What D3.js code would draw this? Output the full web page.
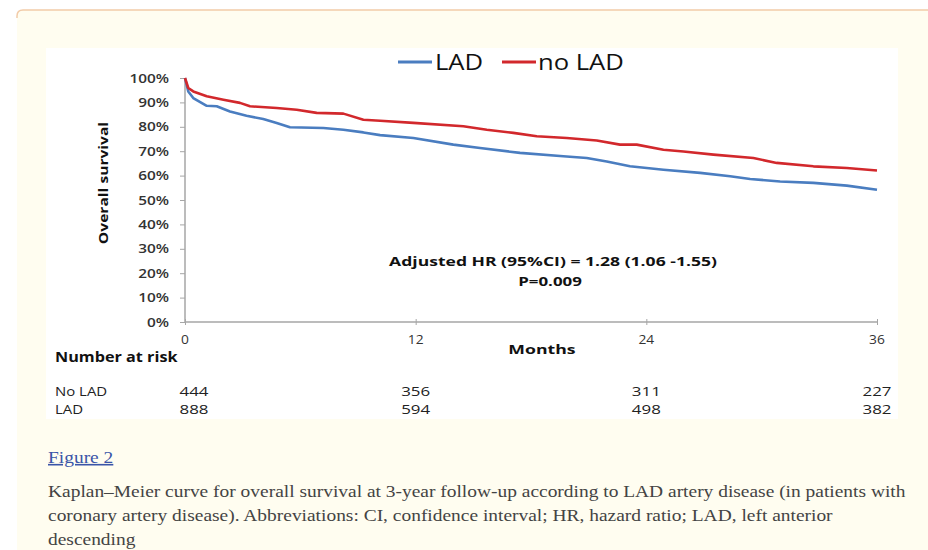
<!DOCTYPE html>
<html>
<head>
<meta charset="utf-8">
<script src="https://cdn.jsdelivr.net/npm/d3@7"></script>
<style>
  html, body { margin: 0; padding: 0; background: #ffffff; }
  svg { display: block; }
</style>
</head>
<body>
<svg id="chart" width="928" height="550"></svg>
<script>
// Kaplan–Meier overall survival, months since index vs. survival fraction
const ladMonths   = [0, 0.17, 0.43, 1.13, 1.65, 2.34, 3.2, 4.07, 4.77, 5.46, 7.2, 8.24, 9.28, 10.15, 11.88, 13.96, 15.35, 17.43, 19.68, 20.9, 21.94, 23.15, 24.89, 26.8, 28.36, 29.4, 30.96, 32.69, 34.43, 36];
const ladSurvival = [1.0, 0.945, 0.918, 0.886, 0.884, 0.863, 0.845, 0.832, 0.816, 0.798, 0.795, 0.788, 0.777, 0.766, 0.754, 0.727, 0.713, 0.693, 0.679, 0.672, 0.658, 0.638, 0.624, 0.611, 0.597, 0.586, 0.576, 0.570, 0.559, 0.542];

const noLadMonths   = [0, 0.17, 0.43, 1.13, 2.0, 2.86, 3.38, 4.77, 5.81, 6.85, 8.24, 9.28, 10.15, 11.88, 14.48, 15.7, 17.08, 18.3, 19.86, 21.42, 22.63, 23.5, 24.89, 25.93, 27.49, 29.57, 30.78, 32.69, 34.43, 36];
const noLadSurvival = [1.0, 0.959, 0.945, 0.925, 0.911, 0.898, 0.884, 0.877, 0.870, 0.857, 0.854, 0.829, 0.825, 0.816, 0.802, 0.788, 0.775, 0.761, 0.754, 0.744, 0.727, 0.727, 0.706, 0.699, 0.686, 0.672, 0.652, 0.638, 0.631, 0.621];

// Number at risk table
const riskTimes = [0, 12, 24, 36];
const riskRows  = ["No LAD", "LAD"];
const riskNoLad = [444, 356, 311, 227];
const riskLad   = [888, 594, 498, 382];

// Axis ticks
const xTickValues = [0, 12, 24, 36];
const yTickValues = [0, 0.1, 0.2, 0.3, 0.4, 0.5, 0.6, 0.7, 0.8, 0.9, 1.0];

// Series names for the legend
const seriesNames = ["LAD", "no LAD"];

const hrText = "Adjusted HR (95%CI) = 1.28 (1.06 -1.55)";
const pText  = "P=0.009";

const captionTitle = "Figure 2";
const captionLines = [
  "Kaplan\u2013Meier curve for overall survival at 3-year follow-up according to LAD artery disease (in patients with",
  "coronary artery disease). Abbreviations: CI, confidence interval; HR, hazard ratio; LAD, left anterior",
  "descending"
];

// ---- drawing ----
const W = 928, H = 550;
const svg = d3.select("#chart");
const colors = { LAD: "#4a7dc0", "no LAD": "#d2282c" };
const chartFont = "'Open Sans', 'DejaVu Sans', sans-serif";
const serifFont = "'Liberation Serif', 'DejaVu Serif', serif";
const sx = 1.15;     // horizontal stretch applied to chart text
const capSx = 1.215; // horizontal stretch applied to caption text

// page backdrop
svg.append("rect").attr("width", W).attr("height", H).attr("fill", "#ffffff");
svg.append("path")
  .attr("d", `M17,${H} L17,16 Q17,10 23,10 L${W},10 L${W},${H} Z`)
  .attr("fill", "#fffdf0");
svg.append("path")
  .attr("d", `M17,18 L17,16 Q17,10 23,10 L${W},10`)
  .attr("fill", "none").attr("stroke", "#f2cba8").attr("stroke-width", 1.5);

// white figure panel
svg.append("rect").attr("x", 46).attr("y", 48).attr("width", 852).attr("height", 371).attr("fill", "#ffffff");

const x = d3.scaleLinear().domain([0, 36]).range([185, 877]);
const y = d3.scaleLinear().domain([0, 1]).range([322, 78]);

function stretchedText(g, px, py, txt, opts) {
  return g.append("g").attr("transform", `translate(${px},${py}) scale(${opts.sx || sx},1)`)
    .append("text")
    .attr("text-anchor", opts.anchor || "start")
    .attr("font-family", opts.family || chartFont)
    .attr("font-size", opts.size || 13)
    .attr("font-weight", opts.weight || "normal")
    .attr("fill", opts.fill || "#222")
    .attr("text-decoration", opts.decoration || null)
    .text(txt);
}

// y axis
const yAxis = svg.append("g").attr("transform", `translate(${x(0)},0)`)
  .call(d3.axisLeft(y).tickValues(yTickValues).tickSize(5).tickFormat(() => ""));
yAxis.select(".domain").attr("stroke", "#a6a6a6").attr("stroke-width", 1.5).attr("d", `M0,${y(1)}V${y(0)}`);
yAxis.selectAll(".tick line").attr("stroke", "#a6a6a6").attr("stroke-width", 1);
yTickValues.forEach(v => {
  stretchedText(svg, 169, y(v) + 4.5, d3.format(".0%")(v), { anchor: "end", size: 12, weight: 600, fill: "#333", sx: 1.28 });
});

// x axis
const xAxis = svg.append("g").attr("transform", `translate(0,${y(0)})`)
  .call(d3.axisBottom(x).tickValues(xTickValues).tickSize(3).tickFormat(() => ""));
xAxis.select(".domain").attr("stroke", "#a6a6a6").attr("stroke-width", 1.5).attr("d", `M${x(0)},0H${x(36)}`);
xAxis.selectAll(".tick line").attr("stroke", "#a6a6a6").attr("stroke-width", 1).attr("y1", -3).attr("y2", 3);
xTickValues.forEach(v => {
  stretchedText(svg, x(v), y(0) + 22, String(v), { anchor: "middle", size: 12, fill: "#333" });
});

// axis titles
stretchedText(svg, 542, 354, "Months", { anchor: "middle", size: 13, weight: "bold", fill: "#111", sx: 1.36 });
svg.append("g").attr("transform", `translate(108,${(y(1) + y(0)) / 2 - 17}) rotate(-90) scale(1.2,1)`)
  .append("text").attr("text-anchor", "middle")
  .attr("font-family", chartFont).attr("font-size", 13).attr("font-weight", "bold").attr("fill", "#111")
  .text("Overall survival");

// survival curves
const line = d3.line().x(d => x(d[0])).y(d => y(d[1])).curve(d3.curveLinear);
const series = [
  { name: "LAD", data: d3.zip(ladMonths, ladSurvival) },
  { name: "no LAD", data: d3.zip(noLadMonths, noLadSurvival) }
];
svg.append("g").selectAll("path").data(series).join("path")
  .attr("d", d => line(d.data))
  .attr("fill", "none")
  .attr("stroke", d => colors[d.name])
  .attr("stroke-width", 2.6)
  .attr("stroke-linejoin", "round");

// legend
const legendPos = [{ x1: 398, x2: 432, tx: 435 }, { x1: 502, x2: 536, tx: 538 }];
seriesNames.forEach((name, i) => {
  const p = legendPos[i];
  svg.append("line").attr("x1", p.x1).attr("x2", p.x2).attr("y1", 62).attr("y2", 62)
    .attr("stroke", colors[name]).attr("stroke-width", 3);
  stretchedText(svg, p.tx, 70, name, { size: 21, fill: "#111", sx: 1.22 });
});

// hazard ratio annotation
stretchedText(svg, 553, 266, hrText, { anchor: "middle", size: 13, weight: "bold", fill: "#111", sx: 1.35 });
stretchedText(svg, 550, 286, pText, { anchor: "middle", size: 13, weight: "bold", fill: "#111", sx: 1.3 });

// number at risk table
stretchedText(svg, 55, 362, "Number at risk", { size: 13.5, weight: "bold", fill: "#111", sx: 1.2 });
const riskValues = [riskNoLad, riskLad];
riskRows.forEach((row, r) => {
  const ry = 396 + r * 18;
  stretchedText(svg, 55, ry, row, { size: 13, fill: "#222" });
  riskTimes.forEach((t, c) => {
    stretchedText(svg, x(t) + (c === 0 ? 9 : 0), ry, String(riskValues[r][c]), { anchor: "middle", size: 13, fill: "#222", sx: 1.3 });
  });
});

// caption
stretchedText(svg, 48, 463, captionTitle, { family: serifFont, size: 16, fill: "#3a55a8", sx: capSx, decoration: "underline" });
captionLines.forEach((l, i) => {
  stretchedText(svg, 48, 497 + i * 24, l, { family: serifFont, size: 16, fill: "#444", sx: capSx });
});
</script>
</body>
</html>
